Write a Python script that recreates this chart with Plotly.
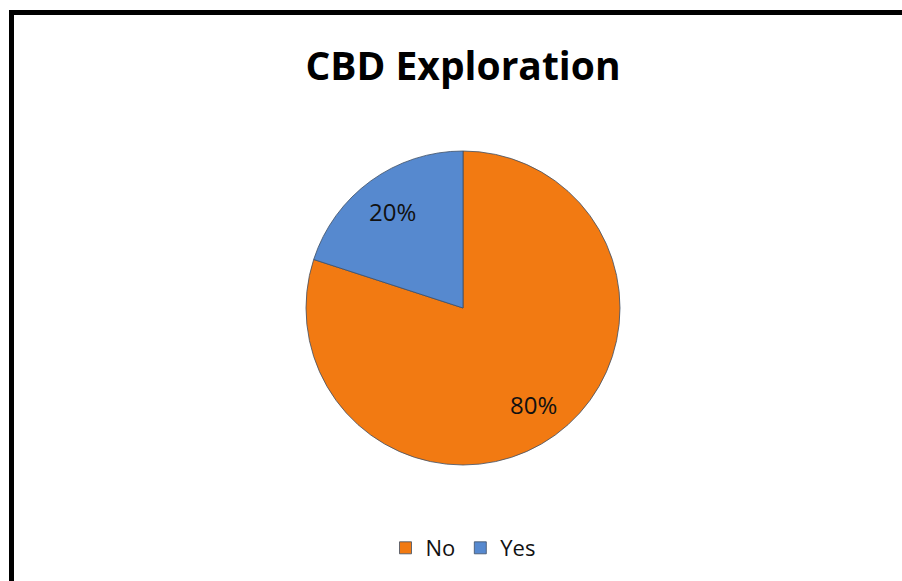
import math
import plotly.graph_objects as go

labels = ["No", "Yes"]
values = [80, 20]
colors = ["#F27A12", "#5689CF"]
title_text = "CBD Exploration"

W, H = 902, 581
cx, cy, r = 463, 308, 157
label_frac = 0.76

fig = go.Figure(go.Pie(
    labels=labels,
    values=values,
    sort=False,
    direction="clockwise",
    rotation=0,
    marker=dict(colors=colors, line=dict(color="#3d4f66", width=0.8)),
    textinfo="none",
    domain=dict(x=[(cx - r) / W, (cx + r) / W],
                y=[(H - cy - r) / H, (H - cy + r) / H]),
    hoverinfo="label+percent",
))

# percentage labels placed at the mid-angle of each slice (Excel-style best fit)
total = sum(values)
annotations = []
start = 0.0
for v in values:
    mid = (start + v / 2) / total * 2 * math.pi
    start += v
    px = cx + label_frac * r * math.sin(mid)
    py = cy - label_frac * r * math.cos(mid)
    annotations.append(dict(
        x=px / W, y=1 - py / H, xref="paper", yref="paper",
        text=f"{round(v / total * 100)}%", showarrow=False,
        xanchor="center", yanchor="middle",
        font=dict(family="Open Sans", size=24, color="#111111"),
    ))

fig.update_layout(
    width=W, height=H,
    margin=dict(l=0, r=0, t=0, b=0),
    paper_bgcolor="white",
    plot_bgcolor="white",
    title=dict(text="<b>" + title_text + "</b>", x=cx / W, xanchor="center",
               y=1 - 66 / H, yanchor="middle",
               font=dict(family="Open Sans", size=39, color="black")),
    legend=dict(orientation="h", x=cx / W, xanchor="center", y=1 - 548 / H,
                yanchor="middle", font=dict(family="Open Sans", size=22, color="#111111"),
                itemwidth=30, traceorder="normal"),
    annotations=annotations,
    shapes=[dict(type="rect", xref="paper", yref="paper",
                 x0=11.5 / W, y0=-0.2, x1=1.2, y1=1 - 12.5 / H,
                 line=dict(color="black", width=5), fillcolor="rgba(0,0,0,0)")],
)

fig.write_html("out.html")
